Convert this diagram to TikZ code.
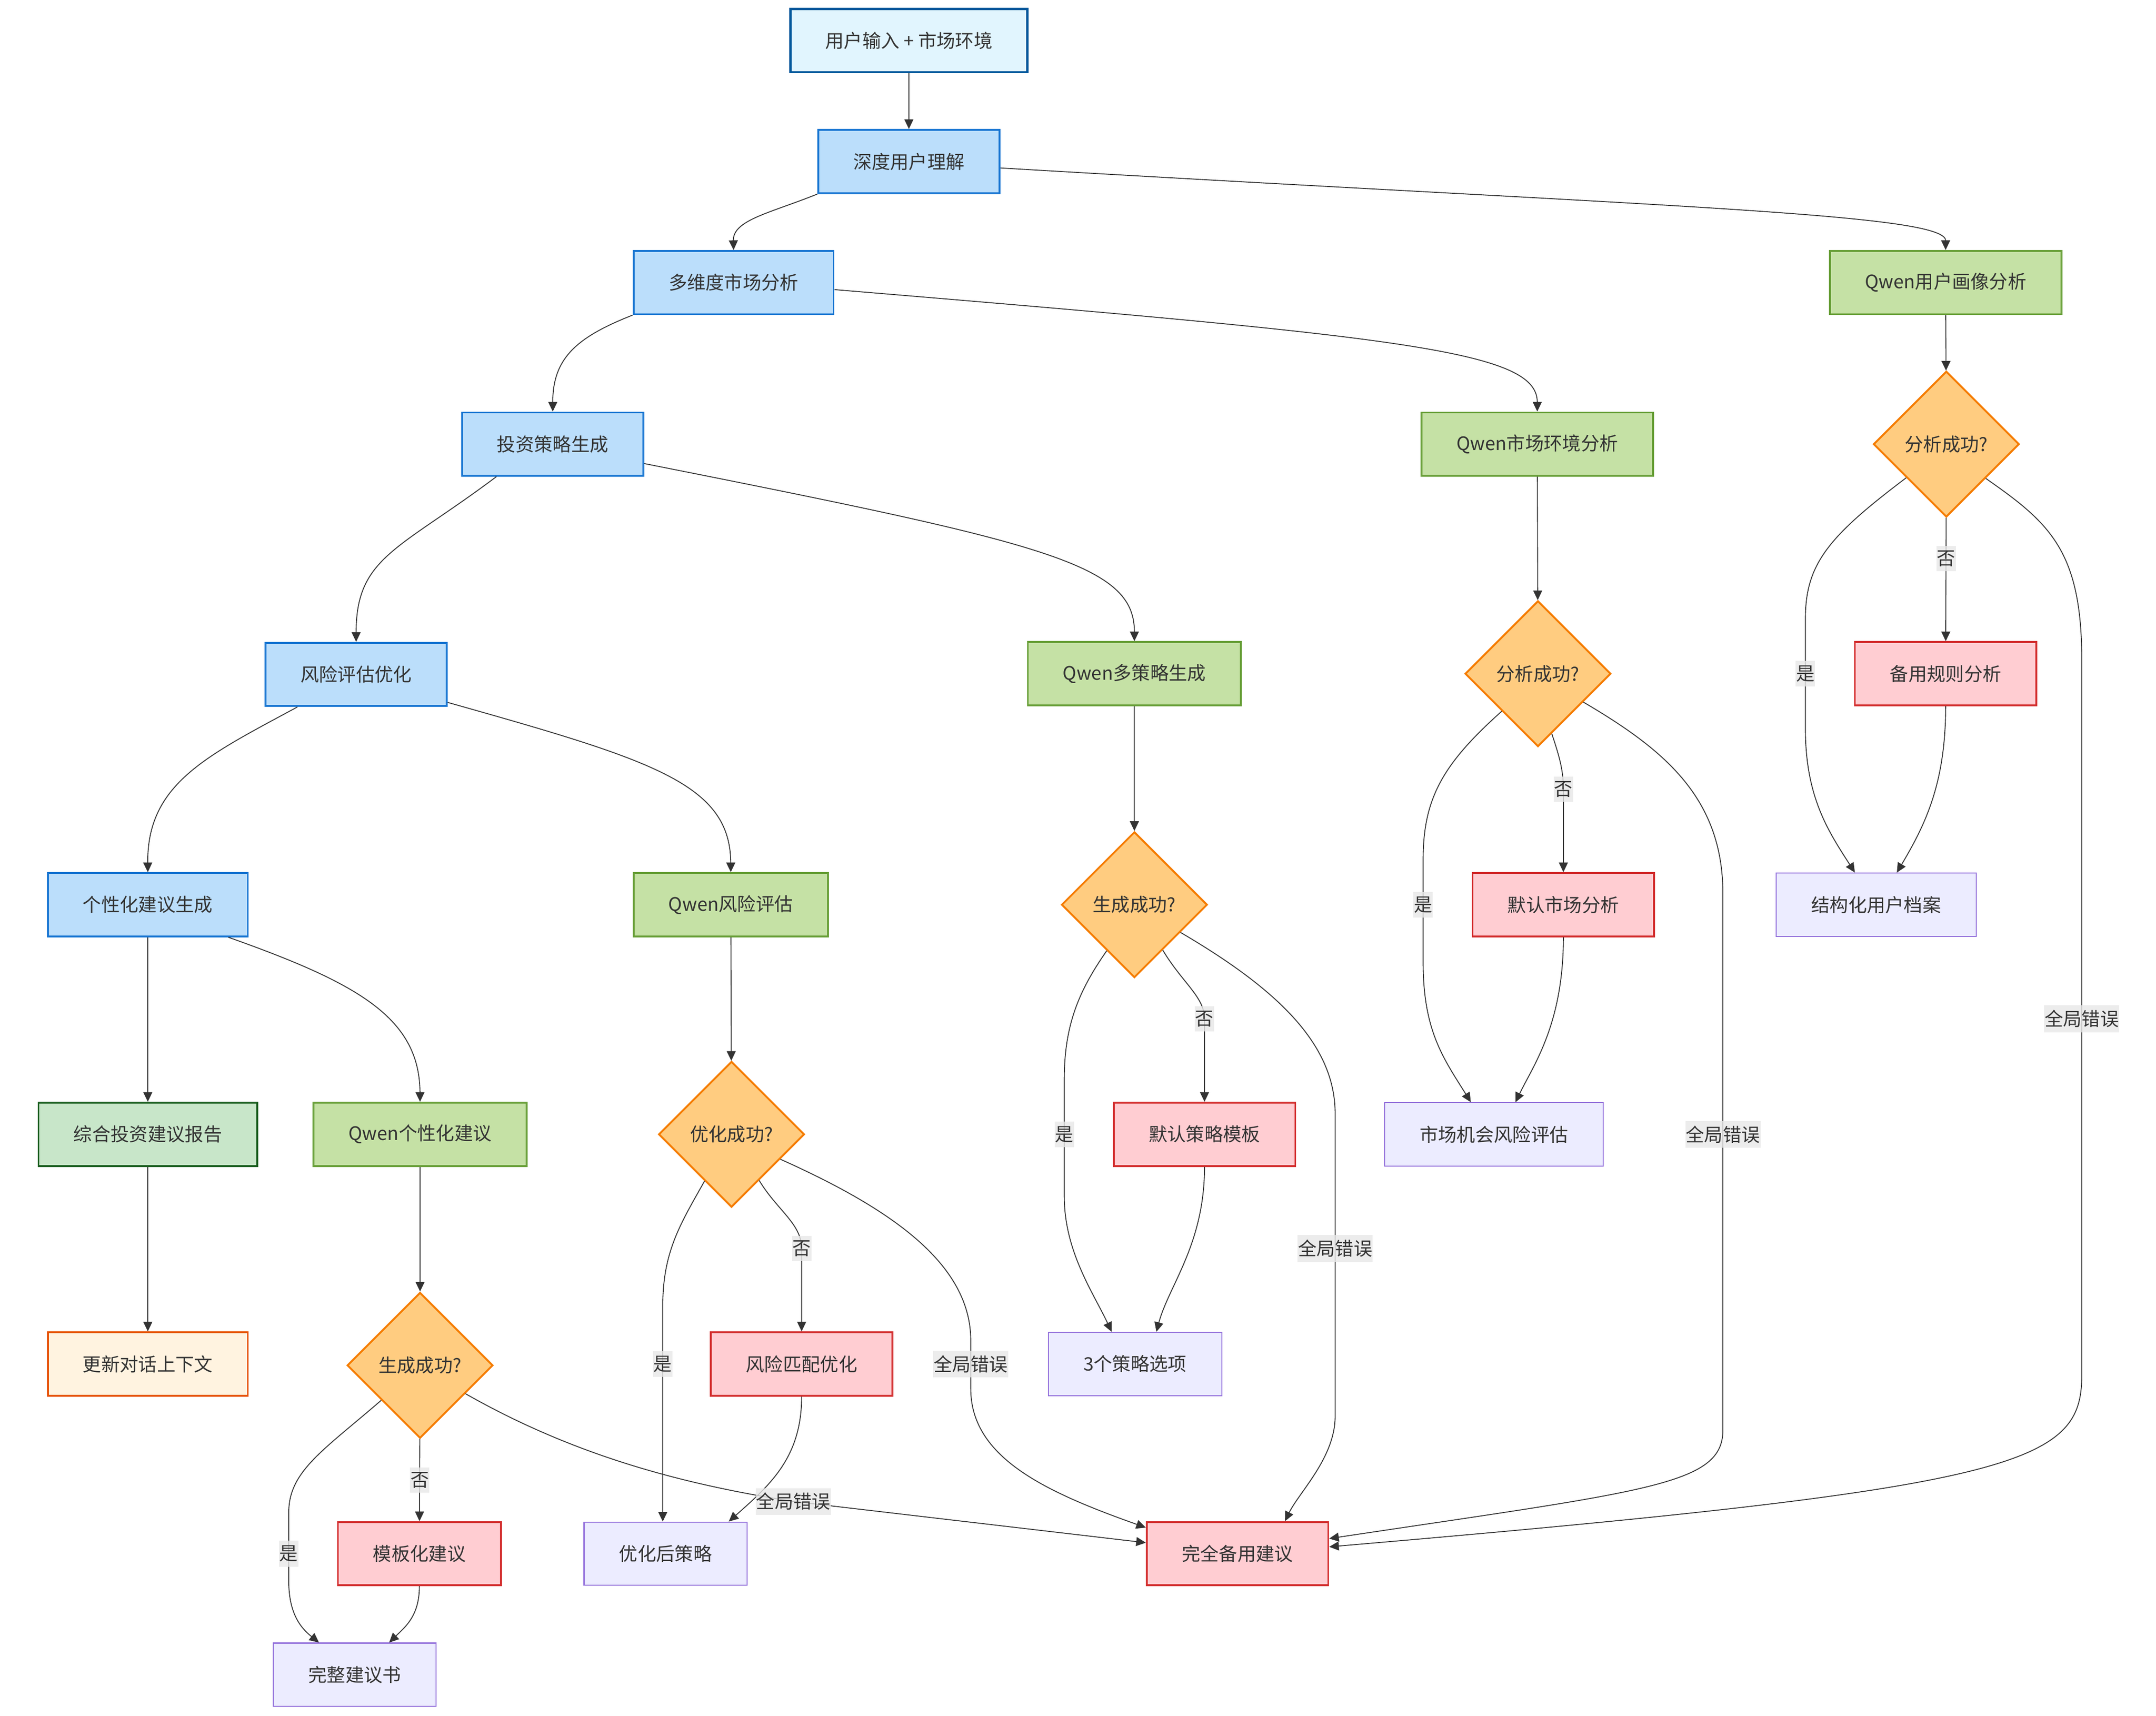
\documentclass[tikz,border=0pt]{standalone}
\usepackage{fontspec}
\setmainfont{Noto Sans CJK SC}
\usetikzlibrary{shapes.geometric,arrows.meta}
\definecolor{txt}{HTML}{333333}
\definecolor{lnc}{HTML}{333333}
\definecolor{lblbg}{HTML}{E8E8E8}
\definecolor{aF}{HTML}{E1F5FE}\definecolor{aS}{HTML}{01579B}
\definecolor{bF}{HTML}{BBDEFB}\definecolor{bS}{HTML}{1976D2}
\definecolor{gF}{HTML}{C5E1A5}\definecolor{gS}{HTML}{689F38}
\definecolor{dF}{HTML}{FFCC80}\definecolor{dS}{HTML}{F57C00}
\definecolor{rF}{HTML}{FFCDD2}\definecolor{rS}{HTML}{D32F2F}
\definecolor{pF}{HTML}{ECECFF}\definecolor{pS}{HTML}{9370DB}
\definecolor{oF}{HTML}{C8E6C9}\definecolor{oS}{HTML}{1B5E20}
\definecolor{sF}{HTML}{FFF3E0}\definecolor{sS}{HTML}{E65100}
\begin{document}
\begin{tikzpicture}[x=1pt,y=-1pt,
  every node/.style={font=\fontsize{13.5pt}{16pt}\selectfont, text=txt},
  box/.style={rectangle, inner xsep=25.5pt, inner ysep=0pt, minimum height=46pt, line width=1.35pt},
  inbox/.style={box, fill=aF, draw=aS, line width=1.7pt},
  bluebox/.style={box, fill=bF, draw=bS},
  qwenbox/.style={box, fill=gF, draw=gS},
  redbox/.style={box, fill=rF, draw=rS},
  purplebox/.style={box, fill=pF, draw=pS, line width=0.75pt},
  reportbox/.style={box, fill=oF, draw=oS},
  ctxbox/.style={box, fill=sF, draw=sS},
  dia/.style={diamond, aspect=1, fill=dF, draw=dS, line width=1.35pt, minimum width=106pt, minimum height=106pt, inner sep=0pt},
  conn/.style={draw=lnc, line width=0.65pt, -{Triangle[length=7pt,width=6.5pt]}},
  lbl/.style={fill=lblbg, fill opacity=0.8, text opacity=1, inner xsep=0.3pt, inner ysep=3.4pt}
]
\fill[white] (0,0) rectangle (1568,1248);
\useasboundingbox (0,0) rectangle (1568,1248);

% nodes
\node[inbox]     (A) at (661,29.5)  {用户输入 + 市场环境};
\node[bluebox]   (B) at (661,117.5) {深度用户理解};
\node[bluebox]   (C) at (533.5,205.5) {多维度市场分析};
\node[qwenbox]   (D) at (1415,205.5) {Qwen用户画像分析};
\node[bluebox]   (E) at (402,323) {投资策略生成};
\node[qwenbox]   (F) at (1118,323) {Qwen市场环境分析};
\node[dia]       (G1) at (1415.5,323) {分析成功?};
\node[bluebox]   (H) at (259,490.5) {风险评估优化};
\node[qwenbox]   (I) at (825,490) {Qwen多策略生成};
\node[dia]       (G2) at (1118.5,490) {分析成功?};
\node[redbox]    (J) at (1415,490) {备用规则分析};
\node[bluebox]   (K) at (107.5,658) {个性化建议生成};
\node[qwenbox]   (L) at (531.5,658) {Qwen风险评估};
\node[dia]       (G3) at (825,658) {生成成功?};
\node[redbox]    (M) at (1137,658) {默认市场分析};
\node[purplebox] (N) at (1364.5,658) {结构化用户档案};
\node[reportbox] (O) at (107.5,825) {综合投资建议报告};
\node[qwenbox]   (P) at (305.5,825) {Qwen个性化建议};
\node[dia]       (G4) at (532,825) {优化成功?};
\node[redbox]    (Q) at (876,825) {默认策略模板};
\node[purplebox] (R) at (1086.5,825) {市场机会风险评估};
\node[ctxbox]    (S) at (107.5,992) {更新对话上下文};
\node[dia]       (G5) at (305.5,993) {生成成功?};
\node[redbox]    (T) at (583,992) {风险匹配优化};
\node[purplebox] (U) at (825.5,992) {3个策略选项};
\node[redbox]    (V) at (305,1130) {模板化建议};
\node[purplebox] (W) at (484,1130) {优化后策略};
\node[redbox]    (X) at (900,1130) {完全备用建议};
\node[purplebox] (Y) at (258,1218) {完整建议书};

% connectors
\draw[conn] (A) -- (B);
\draw[conn] (B.south west) .. controls (560,155) and (533,160) .. (C.north);
\draw[conn] (B.-4) .. controls (1200,150) and (1415,155) .. (D.north);
\draw[conn] (C.south west) .. controls (420,245) and (402,260) .. (E.north);
\draw[conn] (C.-4) .. controls (1020,245) and (1118,255) .. (F.north);
\draw[conn] (D) -- (G1);
\draw[conn] (E.-150) .. controls (290,400) and (259,405) .. (H.north);
\draw[conn] (E.-12) .. controls (760,395) and (825,410) .. (I.north);
\draw[conn] (F) -- (G2);
\draw[conn] (G1) -- coordinate[pos=0.33] (l1) (J);
\draw[conn] (G1.-140) .. controls (1330,390) and (1313,410) .. (1313,450) -- (1313,490) coordinate (l2) -- (1313,530) .. controls (1313,580) and (1330,605) .. ([xshift=-15.5pt]N.north);
\draw[conn] (G1.-41) .. controls (1490,380) and (1514,400) .. (1514,480) -- (1514,741) coordinate (l3) -- (1514,1000) .. controls (1514,1065) and (1470,1082) .. ([yshift=5pt]X.east);
\draw[conn] (H.-151) .. controls (150,550) and (107,570) .. (K.north);
\draw[conn] (H.-17) .. controls (475,553) and (531,570) .. (L.north);
\draw[conn] (I) -- (G3);
\draw[conn] (G2.-134) .. controls (1050,555) and (1035,580) .. (1035,625) -- (1035,658) coordinate (l4) -- (1035,700) .. controls (1035,750) and (1050,770) .. ([xshift=-16.8pt]R.north);
\draw[conn] (G2.-77) .. controls (1134,550) and (1137,560) .. (1137,574) coordinate (l5) -- (M.north);
\draw[conn] (G2.-32.5) .. controls (1210,545) and (1253,580) .. (1253,650) -- (1253,825) coordinate (l6) -- (1253,1040) .. controls (1253,1080) and (1200,1084) .. ([yshift=11pt]X.east);
\draw[conn] (J.south) .. controls (1415,570) and (1400,600) .. ([xshift=15pt]N.north);
\draw[conn] (K) -- (O);
\draw[conn] (K.-22) .. controls (260,715) and (305,740) .. (P.north);
\draw[conn] (L) -- (G4);
\draw[conn] (G3.-58) .. controls (860,715) and (876,725) .. (876,741) coordinate (l7) -- (Q.north);
\draw[conn] (G3.-121) .. controls (785,720) and (774,745) .. (774,785) -- (774,825) coordinate (l8) -- (774,870) .. controls (774,910) and (795,940) .. ([xshift=-17pt]U.north);
\draw[conn] (G3.-31) .. controls (930,720) and (971,760) .. (971,810) -- (971,908) coordinate (l9) -- (971,1030) .. controls (971,1060) and (945,1085) .. ([xshift=34.5pt]X.north);
\draw[conn] (M.south) .. controls (1137,745) and (1115,775) .. ([xshift=15.7pt]R.north);
\draw[conn] (O) -- (S);
\draw[conn] (P) -- (G5);
\draw[conn] (G4.-59) .. controls (565,880) and (583,890) .. (583,908) coordinate (l10) -- (T.north);
\draw[conn] (G4.-120) .. controls (495,890) and (482,910) .. (482,950) -- (482,992) coordinate (l11) -- ([xshift=-2pt]W.north);
\draw[conn] (G4.-27) .. controls (650,880) and (706,920) .. (706,975) -- (706,992) coordinate (l12) -- (706,1010) .. controls (706,1060) and (760,1085) .. ([yshift=19pt]X.west);
\draw[conn] (Q.south) .. controls (876,905) and (850,935) .. ([xshift=15.5pt]U.north);
\draw[conn] (G5) -- coordinate[pos=0.5] (l13) (V);
\draw[conn] (G5.-138) .. controls (235,1055) and (210,1070) .. (210,1100) -- (210,1130) coordinate (l14) -- (210,1150) .. controls (210,1175) and (220,1185) .. ([xshift=-26pt]Y.north);
\draw[conn] (G5.-32.5) .. controls (420,1060) and (500,1080) .. (577,1092) coordinate (l15) -- ([yshift=8pt]X.west);
\draw[conn] (T.south) .. controls (583,1060) and (560,1080) .. ([xshift=46pt]W.north);
\draw[conn] (V.south) .. controls (305,1175) and (295,1183) .. ([xshift=25pt]Y.north);

% edge labels
\node[lbl] at (l1) {否};
\node[lbl] at (l2) {是};
\node[lbl] at (l3) {全局错误};
\node[lbl] at (l4) {是};
\node[lbl] at (l5) {否};
\node[lbl] at (l6) {全局错误};
\node[lbl] at (l7) {否};
\node[lbl] at (l8) {是};
\node[lbl] at (l9) {全局错误};
\node[lbl] at (l10) {否};
\node[lbl] at (l11) {是};
\node[lbl] at (l12) {全局错误};
\node[lbl] at (l13) {否};
\node[lbl] at (l14) {是};
\node[lbl] at (l15) {全局错误};
\end{tikzpicture}
\end{document}
